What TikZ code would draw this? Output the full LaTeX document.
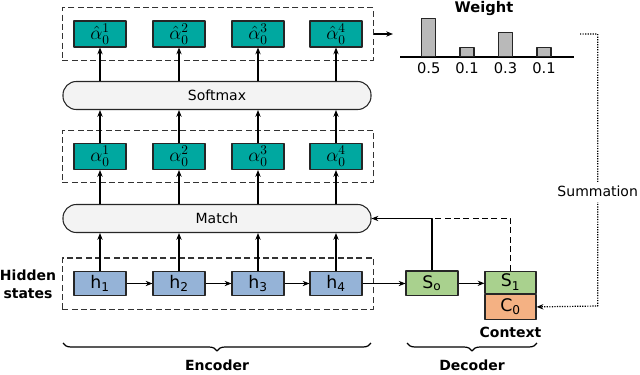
\documentclass[tikz,border=0pt]{standalone}
\usepackage{fontspec}
\setmainfont{DejaVu Sans}
\usetikzlibrary{arrows.meta,calc,positioning,fit,decorations.pathreplacing}
\definecolor{attnteal}{RGB}{0,168,160}
\definecolor{hiddenblue}{RGB}{149,179,215}
\definecolor{decodergreen}{RGB}{169,209,142}
\definecolor{contextorange}{RGB}{244,177,131}
\definecolor{layergray}{RGB}{243,243,243}
\definecolor{bargray}{RGB}{185,185,185}

\begin{document}
\begin{tikzpicture}[x=.75pt,y=-.75pt,>={Stealth[length=1.8mm,width=1.4mm]},line join=round,
  cell/.style={draw=black!85,line width=.8pt,minimum width=39pt,minimum height=18pt,inner sep=0pt,
    font=\fontsize{13}{13}\selectfont},
  alphabox/.style={cell,fill=attnteal,minimum height=19.5pt,font=\Large},
  hiddenbox/.style={cell,fill=hiddenblue,minimum height=17.5pt},
  layer/.style={draw=black!85,line width=.8pt,fill=layergray,rounded corners=10pt,
    minimum width=231pt,minimum height=21pt,font=\fontsize{10.5}{12}\selectfont},
  longdash/.style={dash pattern=on 4.5pt off 2.5pt},
  group/.style={draw=black!80,longdash,line width=.8pt,inner xsep=8.25pt,inner ysep=9.5pt},
  bar/.style={draw=black!85,line width=.8pt,fill=bargray,minimum width=10.5pt,inner sep=0pt,anchor=south},
  lbl/.style={font=\bfseries\fontsize{10.5}{13.5}\selectfont},
  link/.style={line width=.9pt,->}]
 \useasboundingbox (0,0) rectangle (640,375);
 \foreach \i/\x in {1/100,2/179,3/258,4/336}{
  \node[alphabox] (ah\i) at (\x,34) {$\hat{\alpha}_0^{\i}$};
  \node[alphabox] (a\i) at (\x,156.5) {$\alpha_0^{\i}$};
  \node[hiddenbox] (h\i) at (\x,283.5) {h\textsubscript{\i}};
 }
 \node[group,fit=(ah1)(ah4)] (topgrp) {};
 \node[group,fit=(a1)(a4)] (midgrp) {};
 \node[group,fit=(h1)(h4),inner ysep=10pt] (hidgrp) {};
 \node[layer] (softmax) at (217,95.5) {Softmax};
 \node[layer] (match) at (217,218.5) {Match};
 \node[cell,fill=decodergreen,minimum height=18.5pt] (s0) at (432,283.3) {S\textsubscript{o}};
 \node[cell,fill=decodergreen,minimum width=38.25pt,minimum height=16.7pt] (s1) at (510.5,282.2) {S\textsubscript{1}};
 \node[cell,fill=contextorange,minimum width=38.25pt,minimum height=18.75pt,below=0pt of s1] (c0) {C\textsubscript{0}};
 \node[lbl,below=2pt of c0] (ctx) {Context};
 \node[lbl,align=center] (hidlbl) at (28,284) {Hidden\\states};
 \foreach \i in {1,...,4}{
  \draw[link] (h\i.north) -- (h\i.north |- match.south);
  \draw[link] (match.north -| a\i) -- (a\i.south);
  \draw[link] (a\i.north) -- (a\i.north |- softmax.south);
  \draw[link] (softmax.north -| ah\i) -- (ah\i.south);
 }
 \draw[link] (h1) -- (h2);
 \draw[link] (h2) -- (h3);
 \draw[link] (h3) -- (h4);
 \draw[link] (h4.east) -- (h4.east -| s0.west);
 \draw[link] (s0.east) -- (s0.east -| s1.west);
 \draw[link] (s0.north) |- (match.east);
 \draw[line width=.9pt,longdash] (s1.north) |- (s0.north |- match.east);
 % weight chart
 \coordinate (wtin) at (393,34);
 \draw[link] (topgrp.east) -- (wtin);
 \node[lbl,font=\bfseries\fontsize{11}{13}\selectfont] (wtitle) at (484,9) {Weight};
 \draw[line width=.9pt] (400,57) -- (574,57);
 \foreach \x/\hgt/\v [count=\k] in {428.7/37.7/0.5,467/9.3/0.1,505.5/24.3/0.3,544/9.3/0.1}{
  \node[bar,minimum height=\hgt*.75pt] (bar\k) at (\x,57) {};
  \node[font=\fontsize{11}{13}\selectfont] (val\k) at (\x,68) {\v};
 }
 \coordinate (sumin) at (580,34);
 \draw[line width=.9pt,densely dotted,->] (sumin) -- (597.7,34) -- (597.7,306)
  node[pos=.58,fill=white,inner xsep=1pt,font=\fontsize{10.5}{12}\selectfont] {Summation} -- (c0.east);
 % braces
 \draw[line width=.9pt,decorate,decoration={brace,mirror,amplitude=6pt}]
  (63,343) -- (371,343) node[midway,below=9pt,lbl] {Encoder};
 \draw[line width=.9pt,decorate,decoration={brace,mirror,amplitude=6pt}]
  (407,343) -- (537,343) node[midway,below=9pt,lbl] {Decoder};
\end{tikzpicture}
\end{document}
